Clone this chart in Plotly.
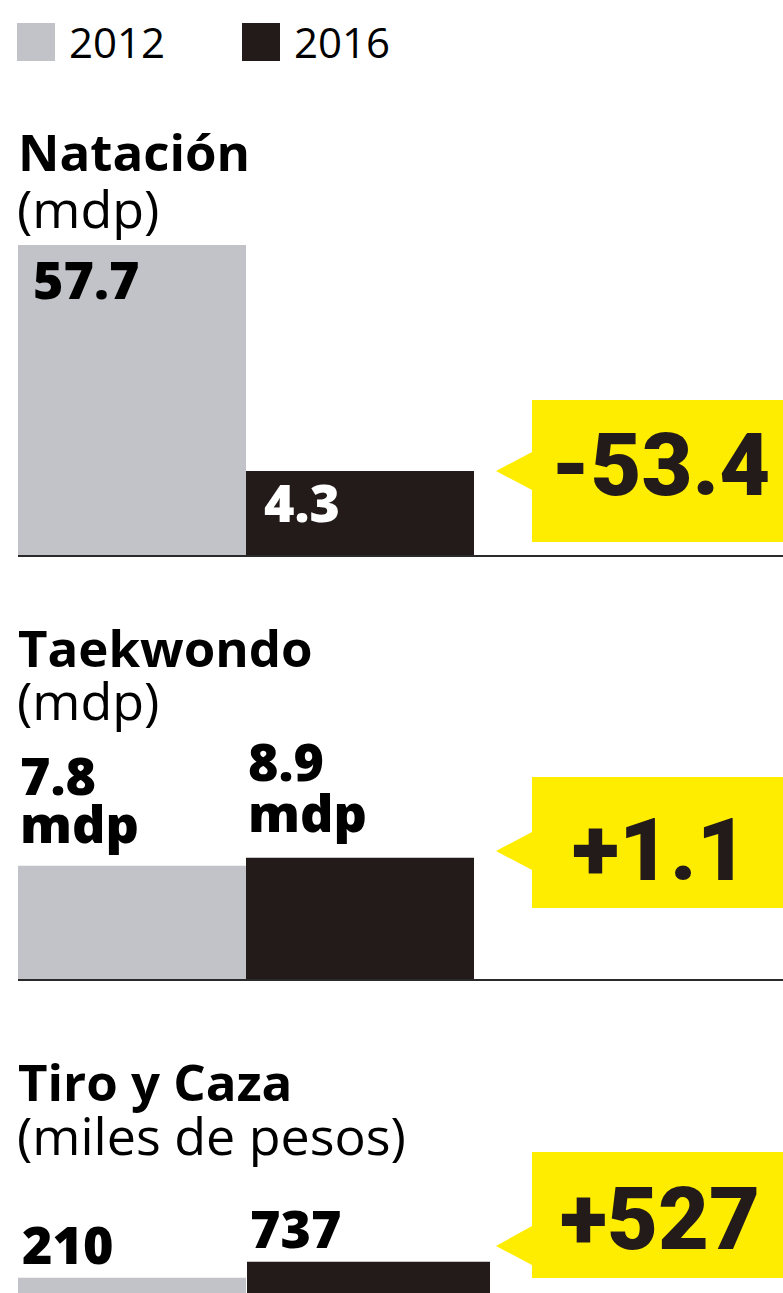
import plotly.graph_objects as go

PAGE_W, PAGE_H = 783, 1293
OFF = 0  # body margin removed via post_script below
W, H = PAGE_W, PAGE_H

# ---------------- data ----------------
years = ["2012", "2016"]
sports = ["Natación", "Taekwondo", "Tiro y Caza"]
units = ["(mdp)", "(mdp)", "(miles de pesos)"]
values_2012 = [57.7, 7.8, 210]
values_2016 = [4.3, 8.9, 737]
value_decimals = [1, 1, 0]
value_suffix = ["", "mdp", ""]

GRAY = "#c2c3c8"
BLACK = "#231b19"
YELLOW = "#ffed00"
TEXT = "#000000"

BASE_FONT = "Open Sans, Lato, Noto Sans, sans-serif"
BIG_FONT = "Roboto, Liberation Sans Narrow, DejaVu Sans Condensed, sans-serif"


def fx(px):
    """page pixel x -> paper fraction"""
    return (px - OFF) / W


def fy(py):
    """page pixel y -> paper fraction"""
    return 1 - (py - OFF) / H


# panel geometry (page pixels) and log ranges of the value axes
panels = [
    dict(top=240, bottom=556, rng=[0.2093, 1.7862], line=556,
         title_y=151, unit_y=207, box=(400, 542), tip=(496, 471), base=(452, 490), num_y=464),
    dict(top=850, bottom=980, rng=[0.0733, 1.0046], line=980,
         title_y=647, unit_y=699, box=(777, 908), tip=(496, 851), base=(832, 870), num_y=849),
    dict(top=1250, bottom=PAGE_H, rng=None, line=None,
         title_y=1081, unit_y=1134, box=(1152, 1278), tip=(496, 1246), base=(1226, 1265), num_y=1218),
]

# x scale: one category = 228 px, first category centered at page x=132 px
unit_px = 228.0
x_range = [-(132 - OFF) / unit_px, (W + OFF - 132) / unit_px]

# panel 3 y scale: 29.34 px per decade, value 10**1.8007 at page y=1293
p3_ppd = 29.34
p3_bottom_log = 1.8007
panels[2]["rng"] = [p3_bottom_log + (1293 - panels[2]["bottom"]) / p3_ppd,
                    p3_bottom_log + (1293 - panels[2]["top"]) / p3_ppd]

fig = go.Figure()
layout = dict(
    width=W, height=H, margin=dict(l=0, r=0, t=0, b=0),
    paper_bgcolor="white", plot_bgcolor="rgba(0,0,0,0)",
    showlegend=False, barmode="overlay",
)
annotations = []
shapes = []

for i, p in enumerate(panels):
    n = "" if i == 0 else str(i + 1)
    widths = [1, 1]
    offsets = [-0.5, -0.5]
    if i == 2:
        widths = [1, 243 / unit_px]
        offsets = [-0.5, (247 - 360) / unit_px]
    fig.add_trace(go.Bar(
        x=years, y=[values_2012[i], values_2016[i]],
        marker=dict(color=[GRAY, BLACK], line=dict(width=0)),
        width=widths, offset=offsets,
        xaxis="x" + n, yaxis="y" + n, hoverinfo="x+y",
    ))
    layout["xaxis" + n] = dict(domain=[0, 1], range=x_range, type="category",
                               categoryorder="array", categoryarray=years,
                               visible=False, anchor="y" + n, fixedrange=True)
    layout["yaxis" + n] = dict(domain=[max(0, fy(p["bottom"])), fy(p["top"])], type="log",
                               range=p["rng"], visible=False, anchor="x" + n, fixedrange=True)

    # titles
    annotations.append(dict(text="<b>%s</b>" % sports[i], x=fx(16), y=fy(p["title_y"]),
                            xref="paper", yref="paper", xanchor="left", yanchor="middle",
                            showarrow=False, font=dict(family=BASE_FONT, size=51, color=TEXT)))
    annotations.append(dict(text=units[i], x=fx(15), y=fy(p["unit_y"]),
                            xref="paper", yref="paper", xanchor="left", yanchor="middle",
                            showarrow=False, font=dict(family=BASE_FONT, size=52, color=TEXT)))

    # baseline
    if p["line"] is not None:
        shapes.append(dict(type="line", xref="paper", yref="paper",
                           x0=fx(18), x1=1, y0=fy(p["line"]), y1=fy(p["line"]),
                           line=dict(color="#2a2a2a", width=2)))

    # yellow callout
    bt, bb = p["box"]
    tx, ty = p["tip"]
    b0, b1 = p["base"]
    bl = 532
    path = "M {} {} L {} {} L {} {} L {} {} L {} {} L {} {} L {} {} Z".format(
        fx(bl), fy(bt), 1, fy(bt), 1, fy(bb), fx(bl), fy(bb),
        fx(bl), fy(b1), fx(tx), fy(ty), fx(bl), fy(b0))
    shapes.append(dict(type="path", xref="paper", yref="paper", path=path,
                       fillcolor=YELLOW, line=dict(width=0), layer="below"))
    d = values_2016[i] - values_2012[i]
    change = ("{:+." + str(value_decimals[i]) + "f}").format(d)
    annotations.append(dict(text=change, x=fx(660), y=fy(p["num_y"]),
                            xref="paper", yref="paper", xanchor="center", yanchor="middle",
                            showarrow=False,
                            font=dict(family=BIG_FONT, size=88, color=BLACK, weight=900)))


def fmt(v, dec):
    return ("{:." + str(dec) + "f}").format(v)


label_font = dict(family=BASE_FONT, size=52, color=TEXT, weight=800)
label_font_w = dict(family=BASE_FONT, size=52, color="white", weight=800)

# value labels (page pixel positions of label boxes)
value_labels = [
    (fmt(values_2012[0], 1), 31, 278, label_font),
    (fmt(values_2016[0], 1), 262, 502, label_font_w),
    (fmt(values_2012[1], 1), 18, 774, label_font),
    (value_suffix[1], 18, 823, label_font),
    (fmt(values_2016[1], 1), 246, 760, label_font),
    (value_suffix[1], 246, 811, label_font),
    (fmt(values_2012[2], 0), 20, 1243, label_font),
    (fmt(values_2016[2], 0), 248, 1227, label_font),
]
for txt, px, py, fnt in value_labels:
    annotations.append(dict(text=txt, x=fx(px), y=fy(py), xref="paper", yref="paper",
                            xanchor="left", yanchor="middle", showarrow=False, font=fnt))

# legend (manual)
legend_items = [(years[0], GRAY, 17), (years[1], BLACK, 242)]
for name, col, x0 in legend_items:
    shapes.append(dict(type="rect", xref="paper", yref="paper",
                       x0=fx(x0), x1=fx(x0 + 38), y0=fy(61), y1=fy(23),
                       fillcolor=col, line=dict(width=0)))
    annotations.append(dict(text=name, x=fx(x0 + 50), y=fy(41), xref="paper", yref="paper",
                            xanchor="left", yanchor="middle", showarrow=False,
                            font=dict(family=BASE_FONT, size=42, color=TEXT)))

layout["annotations"] = annotations
layout["shapes"] = shapes
fig.update_layout(**layout)
fig.write_html(
    "out.html",
    config={"displayModeBar": False, "staticPlot": False},
    post_script=("document.body.style.margin='0';"
                 "document.body.style.overflow='hidden';"
                 "document.documentElement.style.overflow='hidden';"),
)
